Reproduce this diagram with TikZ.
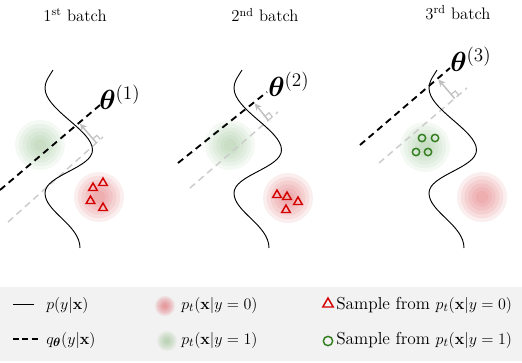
\documentclass[tikz,border=0pt]{standalone}
\usepackage{amsmath,bm}
\usetikzlibrary{shapes.geometric,arrows.meta,calc}
\definecolor{trired}{RGB}{212,0,0}
\definecolor{cirgreen}{RGB}{50,125,30}
\definecolor{legbg}{RGB}{242,242,242}
\definecolor{blobred}{RGB}{225,90,95}
\definecolor{blobgreen}{RGB}{110,170,100}
\newcommand\myblob[4]{%
  \foreach \rr in {1,0.85,0.7,0.55,0.4,0.25}
    \fill[#2, opacity=#4] (#1) circle[radius={\rr*#3*0.75pt}];}
\newcommand\truthcurve[1]{%
  \draw[truth, shift={(#1,0)}] (53,70) .. controls (48,78) and (45,82) .. (45,88)
    .. controls (45,110) and (92.5,130) .. (92.5,150)
    .. controls (92.5,168) and (45,175) .. (45,193)
    .. controls (45,212) and (80,225) .. (80,248);}
\newcommand\perparrow[5]{%
  \coordinate (B#1) at ($(#1)!#5!(#2)$);
  \coordinate (T#1) at ($(#3)!(B#1)!(#4)$);
  \coordinate (M#1) at ($(B#1)!4pt!(T#1)$);
  \coordinate (U#1) at ($(B#1)!4pt!(#2)$);
  \draw[perp, -{Stealth[length=5pt,width=5pt,inset=1.5pt]}, shorten >=1pt] (B#1) -- (T#1);
  \draw[perp, line width=0.8pt] (M#1) -- ($(M#1)+(U#1)-(B#1)$) -- (U#1);}
\begin{document}
\begin{tikzpicture}[x=0.75pt,y=-0.75pt,
  oldbound/.style={draw=black!20, line width=1.1pt, dash pattern=on 5pt off 3.5pt},
  newbound/.style={draw=black, line width=1.4pt, dash pattern=on 5pt off 3.5pt},
  truth/.style={draw=black, line width=0.7pt},
  perp/.style={draw=black!25, line width=1.1pt},
  tri/.style={regular polygon, regular polygon sides=3, draw=trired, line width=1.1pt, inner sep=0pt, minimum size=7.5pt},
  circ/.style={circle, draw=cirgreen, line width=1.1pt, inner sep=0pt, minimum size=5.5pt},
  title/.style={font=\fontsize{12.5}{14}\selectfont},
  thlabel/.style={font=\fontsize{20}{22}\selectfont, inner sep=0pt, anchor=west},
  legtext/.style={font=\fontsize{13}{15}\selectfont, anchor=west, inner sep=0pt}]
\path[use as bounding box, fill=white] (0,0) rectangle (522,362);

% ---------- blobs ----------
\coordinate (ga) at (40,145);  \coordinate (ra) at (99,197);
\coordinate (gb) at (230,145); \coordinate (rb) at (288,198);
\coordinate (gc) at (425,147); \coordinate (rc) at (482,197);
\myblob{ga}{blobgreen}{25}{0.07}
\myblob{gb}{blobgreen}{25}{0.07}
\myblob{gc}{blobgreen}{25}{0.07}
\myblob{ra}{blobred}{25}{0.1}
\myblob{rb}{blobred}{25}{0.1}
\myblob{rc}{blobred}{25}{0.1}

% ---------- boundary lines ----------
\coordinate (g1a) at (8,222);   \coordinate (g2a) at (103,137);
\coordinate (b1a) at (0,190);   \coordinate (b2a) at (100,105);
\coordinate (g1b) at (190,188); \coordinate (g2b) at (278,112);
\coordinate (b1b) at (178,163); \coordinate (b2b) at (267,92);
\coordinate (g1c) at (379,163); \coordinate (g2c) at (467,88);
\coordinate (b1c) at (360,145); \coordinate (b2c) at (450,68);

\draw[oldbound] (g1a) -- (g2a);
\draw[oldbound] (g1b) -- (g2b);
\draw[oldbound] (g1c) -- (g2c);

\truthcurve{0}
\truthcurve{189}
\truthcurve{384}

\perparrow{g1a}{g2a}{b1a}{b2a}{0.93}
\perparrow{g1b}{g2b}{b1b}{b2b}{0.89}
\perparrow{g1c}{g2c}{b1c}{b2c}{0.86}

\draw[newbound] (b1a) -- (b2a);
\draw[newbound] (b1b) -- (b2b);
\draw[newbound] (b1c) -- (b2c);

% ---------- labels ----------
\node[title] (t1) at (75,15) {1\textsuperscript{st} batch};
\node[title] (t2) at (265,15) {2\textsuperscript{nd} batch};
\node[title] (t3) at (458,13) {3\textsuperscript{rd} batch};
\node[thlabel] (th1) at (99,97) {$\bm{\theta}^{(1)}$};
\node[thlabel] (th2) at (268,84) {$\bm{\theta}^{(2)}$};
\node[thlabel] (th3) at (450,59) {$\bm{\theta}^{(3)}$};

% ---------- samples ----------
\node[tri] (s1) at (103,183) {};
\node[tri] (s2) at (93,188) {};
\node[tri] (s3) at (90.5,201) {};
\node[tri] (s4) at (103,208) {};
\node[tri] (s5) at (277,195) {};
\node[tri] (s6) at (287,197) {};
\node[tri] (s7) at (298,202) {};
\node[tri] (s8) at (286,210) {};
\node[circ] (c1) at (422,138) {};
\node[circ] (c2) at (435,138) {};
\node[circ] (c3) at (416,152) {};
\node[circ] (c4) at (428,152) {};

% ---------- legend ----------
\fill[legbg] (0,287) rectangle (522,361);
\coordinate (la) at (13,304); \coordinate (lb) at (34,304);
\coordinate (lc) at (13,339); \coordinate (ld) at (40,339);
\draw[truth] (la) -- (lb);
\draw[newbound, dash pattern=on 4.5pt off 2.5pt] (lc) -- (ld);
\node[legtext] (lt1) at (46,305) {$p(y|\mathbf{x})$};
\node[legtext] (lt2) at (46,340) {$q_{\bm{\theta}}(y|\mathbf{x})$};
\coordinate (lr) at (165,306); \coordinate (lg) at (167,341);
\myblob{lr}{blobred}{10}{0.12}
\myblob{lg}{blobgreen}{10}{0.08}
\node[legtext] (lt3) at (181,305) {$p_t(\mathbf{x}|y=0)$};
\node[legtext] (lt4) at (181,340) {$p_t(\mathbf{x}|y=1)$};
\node[tri, minimum size=9pt] (lt) at (328,304) {};
\node[circ, minimum size=7pt] (lcirc) at (328,341) {};
\node[legtext] (lt5) at (336,305) {Sample from $p_t(\mathbf{x}|y=0)$};
\node[legtext] (lt6) at (336,340) {Sample from $p_t(\mathbf{x}|y=1)$};
\end{tikzpicture}
\end{document}
